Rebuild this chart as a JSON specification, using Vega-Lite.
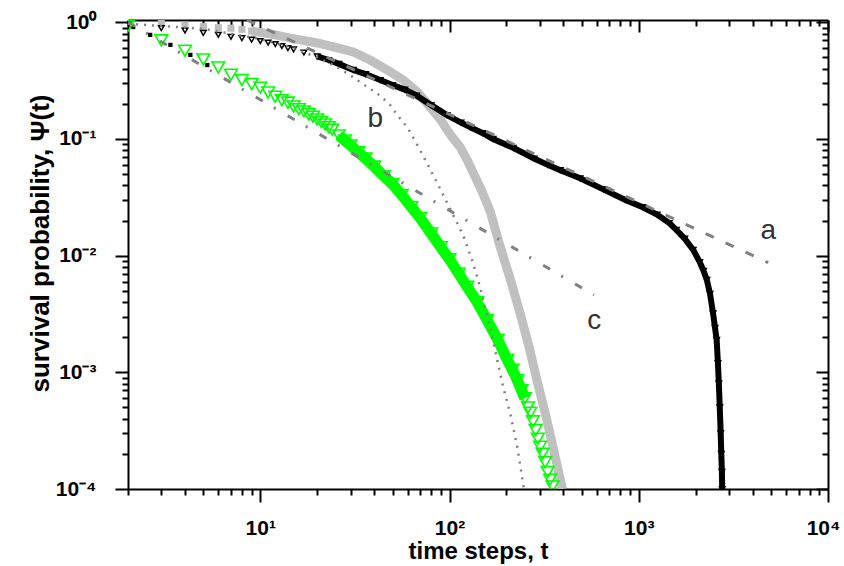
{
  "$schema": "https://vega.github.io/schema/vega-lite/v6.json",
  "width": 700,
  "height": 469,
  "autosize": {"type": "none"},
  "padding": {"left": 128, "top": 20, "right": 16, "bottom": 77},
  "background": "white",
  "config": {
    "view": {"stroke": null},
    "axis": {
      "domainColor": "black", "domainWidth": 2, "tickColor": "black", "tickWidth": 2, "grid": false,
      "labelFont": "Liberation Sans", "labelFontWeight": "bold", "labelFontSize": 21, "labelColor": "black",
      "titleFont": "Liberation Sans", "titleFontWeight": "bold", "titleFontSize": 24, "titleColor": "black"
    }
  },
  "datasets": {
    "lgray": [
      {"t": 3, "y": 0.98}, {"t": 4, "y": 0.95}, {"t": 5, "y": 0.92}, {"t": 6, "y": 0.9}, {"t": 7, "y": 0.89},
      {"t": 8, "y": 0.87}, {"t": 9, "y": 0.84}, {"t": 10, "y": 0.82}, {"t": 12, "y": 0.78}, {"t": 14, "y": 0.74},
      {"t": 16, "y": 0.71}, {"t": 20, "y": 0.665}, {"t": 25, "y": 0.61}, {"t": 31, "y": 0.556}, {"t": 38, "y": 0.475},
      {"t": 47, "y": 0.39}, {"t": 57, "y": 0.32}, {"t": 68, "y": 0.25}, {"t": 79, "y": 0.188}, {"t": 90, "y": 0.145},
      {"t": 97, "y": 0.12}, {"t": 105, "y": 0.1}, {"t": 114, "y": 0.085}, {"t": 124, "y": 0.066}, {"t": 133, "y": 0.052},
      {"t": 148, "y": 0.036}, {"t": 164, "y": 0.024}, {"t": 185, "y": 0.012}, {"t": 210, "y": 0.0062}, {"t": 236, "y": 0.0032},
      {"t": 262, "y": 0.0017}, {"t": 290, "y": 0.00085}, {"t": 320, "y": 0.00045}, {"t": 350, "y": 0.00024}, {"t": 385, "y": 0.00012},
      {"t": 395, "y": 0.0001}
    ],
    "black": [
      {"t": 2, "y": 0.95}, {"t": 3, "y": 0.89}, {"t": 4, "y": 0.85}, {"t": 5, "y": 0.81}, {"t": 6, "y": 0.78},
      {"t": 7, "y": 0.75}, {"t": 8, "y": 0.73}, {"t": 9, "y": 0.71}, {"t": 10, "y": 0.69}, {"t": 11, "y": 0.67},
      {"t": 12, "y": 0.65}, {"t": 13, "y": 0.625}, {"t": 14, "y": 0.6}, {"t": 15, "y": 0.585}, {"t": 17, "y": 0.55},
      {"t": 20, "y": 0.51}, {"t": 23, "y": 0.475}, {"t": 26, "y": 0.44}, {"t": 31, "y": 0.39}, {"t": 36, "y": 0.36},
      {"t": 43, "y": 0.32}, {"t": 50, "y": 0.29}, {"t": 58, "y": 0.265}, {"t": 67, "y": 0.235}, {"t": 80, "y": 0.195},
      {"t": 97, "y": 0.16}, {"t": 115, "y": 0.138}, {"t": 130, "y": 0.125}, {"t": 150, "y": 0.112}, {"t": 170, "y": 0.1},
      {"t": 217, "y": 0.084}, {"t": 280, "y": 0.068}, {"t": 330, "y": 0.06}, {"t": 385, "y": 0.054}, {"t": 490, "y": 0.046},
      {"t": 650, "y": 0.037}, {"t": 850, "y": 0.03}, {"t": 1050, "y": 0.026}, {"t": 1250, "y": 0.0225}, {"t": 1450, "y": 0.019},
      {"t": 1580, "y": 0.0166}, {"t": 1750, "y": 0.014}, {"t": 1940, "y": 0.0112}, {"t": 2100, "y": 0.0088}, {"t": 2200, "y": 0.0074},
      {"t": 2290, "y": 0.0062}, {"t": 2380, "y": 0.0047}, {"t": 2470, "y": 0.0032}, {"t": 2530, "y": 0.0024}, {"t": 2580, "y": 0.0019},
      {"t": 2620, "y": 0.0012}, {"t": 2650, "y": 0.0008}, {"t": 2680, "y": 0.0005}, {"t": 2710, "y": 0.0003}, {"t": 2730, "y": 0.0002},
      {"t": 2750, "y": 0.00014}, {"t": 2760, "y": 0.0001}
    ],
    "black2": [
      {"t": 2.13, "y": 0.91}, {"t": 2.62, "y": 0.78}, {"t": 3.35, "y": 0.64}, {"t": 4.27, "y": 0.525}, {"t": 5.25, "y": 0.43}
    ],
    "green": [
      {"t": 2, "y": 0.93}, {"t": 3, "y": 0.7}, {"t": 4, "y": 0.57}, {"t": 5, "y": 0.48}, {"t": 6, "y": 0.41},
      {"t": 7, "y": 0.355}, {"t": 8, "y": 0.32}, {"t": 9, "y": 0.295}, {"t": 10, "y": 0.275}, {"t": 11, "y": 0.25},
      {"t": 12, "y": 0.23}, {"t": 13, "y": 0.215}, {"t": 14, "y": 0.205}, {"t": 15, "y": 0.19}, {"t": 16, "y": 0.18},
      {"t": 17, "y": 0.172}, {"t": 18, "y": 0.163}, {"t": 19, "y": 0.155}, {"t": 20, "y": 0.147}, {"t": 21, "y": 0.14},
      {"t": 22, "y": 0.133}, {"t": 23, "y": 0.126}, {"t": 24, "y": 0.12}, {"t": 26, "y": 0.107}, {"t": 28, "y": 0.097},
      {"t": 30, "y": 0.088}, {"t": 33, "y": 0.077}, {"t": 36, "y": 0.068}, {"t": 40, "y": 0.058}, {"t": 45, "y": 0.048},
      {"t": 50, "y": 0.041}, {"t": 56, "y": 0.033}, {"t": 63, "y": 0.026}, {"t": 70, "y": 0.021}, {"t": 80, "y": 0.0155},
      {"t": 90, "y": 0.0118}, {"t": 100, "y": 0.0093}, {"t": 112, "y": 0.007}, {"t": 124, "y": 0.0054}, {"t": 140, "y": 0.004},
      {"t": 158, "y": 0.0028}, {"t": 180, "y": 0.0019}, {"t": 202, "y": 0.00128}, {"t": 215, "y": 0.00105}, {"t": 228, "y": 0.00086},
      {"t": 240, "y": 0.0007}, {"t": 250, "y": 0.0006}, {"t": 260, "y": 0.0005}, {"t": 267, "y": 0.00045}, {"t": 276, "y": 0.00038},
      {"t": 285, "y": 0.00032}, {"t": 293, "y": 0.00027}, {"t": 301, "y": 0.00023}, {"t": 310, "y": 0.0002}, {"t": 320, "y": 0.00017},
      {"t": 330, "y": 0.00014}, {"t": 340, "y": 0.00012}, {"t": 350, "y": 0.000105}
    ],
    "lineA": [{"t": 8.5, "y": 1.046}, {"t": 4830, "y": 0.0087}],
    "lineC": [{"t": 2, "y": 1.0}, {"t": 580, "y": 0.0046}],
    "lineB": [
      {"t": 2, "y": 0.97}, {"t": 5, "y": 0.88}, {"t": 10, "y": 0.72}, {"t": 15, "y": 0.6}, {"t": 20, "y": 0.5},
      {"t": 25, "y": 0.42}, {"t": 30, "y": 0.35}, {"t": 36.7, "y": 0.28}, {"t": 43, "y": 0.235}, {"t": 48.6, "y": 0.195},
      {"t": 53, "y": 0.16}, {"t": 60, "y": 0.125}, {"t": 67.5, "y": 0.089}, {"t": 76, "y": 0.062}, {"t": 86, "y": 0.042},
      {"t": 101, "y": 0.025}, {"t": 118, "y": 0.015}, {"t": 133, "y": 0.0087}, {"t": 145, "y": 0.0054}, {"t": 164, "y": 0.0024},
      {"t": 192, "y": 0.00075}, {"t": 209, "y": 0.00045}, {"t": 228, "y": 0.00023}, {"t": 245, "y": 0.00011}, {"t": 248, "y": 0.0001}
    ],
    "labels": [
      {"t": 4830, "y": 0.0163, "label": "a"},
      {"t": 40.5, "y": 0.148, "label": "b"},
      {"t": 581, "y": 0.00276, "label": "c"}
    ]
  },
  "resolve": {"axis": {"x": "independent", "y": "independent"}},
  "encoding": {
    "x": {"field": "t", "type": "quantitative", "scale": {"type": "log", "domain": [2, 10000], "nice": false}, "axis": null},
    "y": {"field": "y", "type": "quantitative", "scale": {"type": "log", "domain": [0.0001, 1.046], "nice": false}, "axis": null}
  },
  "layer": [
    {
      "data": {"name": "lgray"},
      "transform": [{"filter": "datum.t >= 9"}],
      "mark": {"type": "line", "color": "#c0c0c0", "strokeWidth": 9, "clip": true},
      "encoding": {
        "x": {"field": "t", "type": "quantitative", "scale": {"type": "log", "domain": [2, 10000], "nice": false},
          "axis": {"orient": "bottom", "title": "time steps, t",
            "values": [2,3,4,5,6,7,8,9,10,20,30,40,50,60,70,80,90,100,200,300,400,500,600,700,800,900,1000,2000,3000,4000,5000,6000,7000,8000,9000,10000],
            "tickSize": {"condition": {"test": "abs(log(datum.value)/LN10 - round(log(datum.value)/LN10)) < 0.001", "value": 13}, "value": 6},
            "labelExpr": "abs(log(datum.value)/LN10 - round(log(datum.value)/LN10)) < 0.001 ? ['10⁰','10¹','10²','10³','10⁴'][round(log(datum.value)/LN10)] : ''",
            "labelOffset": {"condition": {"test": "datum.value >= 10000", "value": -5}, "value": 0},
            "labelOverlap": false, "labelFlush": false, "labelPadding": 15, "titleY": 50}},
        "y": {"field": "y", "type": "quantitative", "scale": {"type": "log", "domain": [0.0001, 1.046], "nice": false},
          "axis": {"orient": "left", "title": "survival probability, Ψ(t)", "titleFontSize": 26,
            "values": [0.0001,0.0002,0.0003,0.0004,0.0005,0.0006,0.0007,0.0008,0.0009,0.001,0.002,0.003,0.004,0.005,0.006,0.007,0.008,0.009,0.01,0.02,0.03,0.04,0.05,0.06,0.07,0.08,0.09,0.1,0.2,0.3,0.4,0.5,0.6,0.7,0.8,0.9,1],
            "tickSize": {"condition": {"test": "abs(log(datum.value)/LN10 - round(log(datum.value)/LN10)) < 0.001", "value": 13}, "value": 6},
            "labelExpr": "abs(log(datum.value)/LN10 - round(log(datum.value)/LN10)) < 0.001 ? ['10⁻⁴','10⁻³','10⁻²','10⁻¹','10⁰'][round(log(datum.value)/LN10)+4] : ''",
            "labelOverlap": false, "labelFlush": false, "labelPadding": 19, "titleX": -75, "titleY": 223}}
      }
    },
    {
      "data": {"name": "lgray"},
      "transform": [{"filter": "datum.t <= 12"}],
      "mark": {"type": "point", "shape": "square", "filled": true, "color": "#bdbdbd", "size": 50, "opacity": 1, "clip": true},
      "encoding": {
        "x": {"field": "t", "type": "quantitative", "scale": {"type": "log", "domain": [2, 10000], "nice": false},
          "axis": {"orient": "top", "title": null, "labels": false,
            "values": [2,3,4,5,6,7,8,9,10,20,30,40,50,60,70,80,90,100,200,300,400,500,600,700,800,900,1000,2000,3000,4000,5000,6000,7000,8000,9000,10000],
            "tickSize": {"condition": {"test": "abs(log(datum.value)/LN10 - round(log(datum.value)/LN10)) < 0.001", "value": -12}, "value": -6}}},
        "y": {"field": "y", "type": "quantitative", "scale": {"type": "log", "domain": [0.0001, 1.046], "nice": false},
          "axis": {"orient": "right", "title": null, "labels": false,
            "values": [0.0001,0.0002,0.0003,0.0004,0.0005,0.0006,0.0007,0.0008,0.0009,0.001,0.002,0.003,0.004,0.005,0.006,0.007,0.008,0.009,0.01,0.02,0.03,0.04,0.05,0.06,0.07,0.08,0.09,0.1,0.2,0.3,0.4,0.5,0.6,0.7,0.8,0.9,1],
            "tickSize": {"condition": {"test": "abs(log(datum.value)/LN10 - round(log(datum.value)/LN10)) < 0.001", "value": -12}, "value": -6}}}
      }
    },
    {
      "data": {"name": "black2"},
      "mark": {"type": "point", "shape": "square", "filled": true, "color": "black", "size": 18, "opacity": 1, "clip": true}
    },
    {
      "data": {"name": "green"},
      "transform": [{"filter": "datum.t >= 25 && datum.t <= 250"}],
      "mark": {"type": "line", "color": "#00ff00", "strokeWidth": 11, "clip": true}
    },
    {
      "data": {"name": "green"},
      "mark": {"type": "point", "shape": "triangle-down", "filled": false, "color": "#00ff00", "strokeWidth": 1.6, "size": 160, "opacity": 1, "clip": true}
    },
    {
      "data": {"name": "black"},
      "transform": [{"filter": "datum.t >= 20"}],
      "mark": {"type": "line", "color": "black", "strokeWidth": 6, "clip": true}
    },
    {
      "data": {"name": "black"},
      "mark": {"type": "point", "shape": "triangle-down", "filled": false, "color": "black", "strokeWidth": 1.5, "size": 30, "opacity": 1, "clip": true}
    },
    {
      "data": {"name": "lineA"},
      "mark": {"type": "line", "color": "#808080", "strokeWidth": 3, "strokeDash": [9, 13], "clip": true}
    },
    {
      "data": {"name": "lineB"},
      "mark": {"type": "line", "color": "#808080", "strokeWidth": 2.5, "strokeDash": [2, 6], "clip": true}
    },
    {
      "data": {"name": "lineC"},
      "mark": {"type": "line", "color": "#808080", "strokeWidth": 3, "strokeDash": [8, 13, 2, 14], "clip": true}
    },
    {
      "data": {"name": "labels"},
      "mark": {"type": "text", "font": "Liberation Sans", "fontSize": 28, "color": "#333333", "align": "center", "baseline": "middle"},
      "encoding": {"text": {"field": "label"}}
    }
  ]
}
